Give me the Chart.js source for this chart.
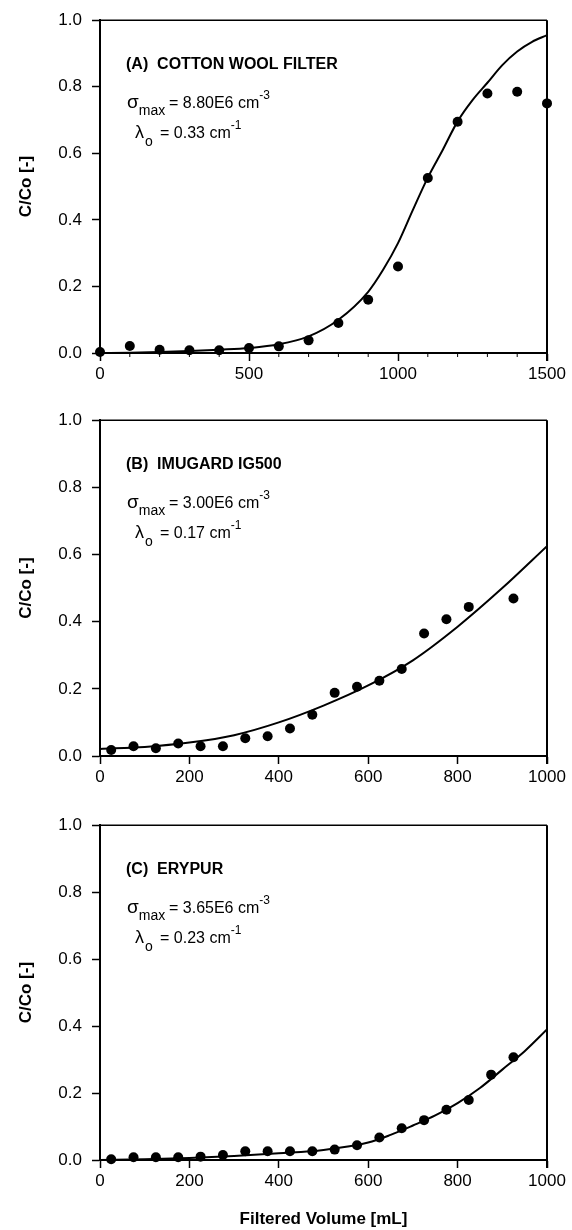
<!DOCTYPE html>
<html>
<head>
<meta charset="utf-8">
<title>Filtration breakthrough curves</title>
<script src="https://cdn.jsdelivr.net/npm/chart.js@4.4.0/dist/chart.umd.min.js"></script>
<style>
  html, body { margin: 0; padding: 0; background: #fff; }
  #wrap { position: relative; width: 572px; height: 1230px; }
  #wrap canvas { position: absolute; left: 0; }
</style>
</head>
<body>
<div id="wrap">
  <canvas id="chart-a" style="top:0px;width:572px;height:400px" width="572" height="400"></canvas>
  <canvas id="chart-b" style="top:400px;width:572px;height:410px" width="572" height="410"></canvas>
  <canvas id="chart-c" style="top:805px;width:572px;height:425px" width="572" height="425"></canvas>
</div>
<script>
// --- data ---

// (A) cotton wool filter
const volumeA = [0, 100, 200, 300, 400, 500, 600, 700, 800, 900, 1000, 1100, 1200, 1300, 1400, 1500];
const ratioA = [0.003, 0.021, 0.01, 0.008, 0.008, 0.015, 0.02, 0.038, 0.09, 0.16, 0.26, 0.526, 0.695, 0.78, 0.785, 0.75];
const fitVolumeA = [0, 100, 200, 300, 400, 500, 600, 700, 800, 900, 950, 1000, 1050, 1100, 1150, 1200, 1250, 1300, 1350, 1400, 1450, 1500];
const fitA = [0, 0.001, 0.003, 0.006, 0.01, 0.015, 0.026, 0.05, 0.1, 0.184, 0.25, 0.33, 0.43, 0.527, 0.61, 0.696, 0.76, 0.812, 0.865, 0.906, 0.935, 0.955];

// (B) Imugard IG500
const volumeB = [25, 75, 125, 175, 225, 275, 325, 375, 425, 475, 525, 575, 625, 675, 725, 775, 825, 925];
const ratioB = [0.018, 0.029, 0.023, 0.037, 0.029, 0.029, 0.053, 0.059, 0.082, 0.123, 0.188, 0.206, 0.224, 0.259, 0.365, 0.407, 0.444, 0.469];
const fitVolumeB = [0, 100, 200, 300, 400, 500, 600, 700, 800, 900, 1000];
const fitB = [0.021, 0.027, 0.04, 0.062, 0.1, 0.15, 0.21, 0.285, 0.385, 0.5, 0.625];

// (C) Erypur
const volumeC = [25, 75, 125, 175, 225, 275, 325, 375, 425, 475, 525, 575, 625, 675, 725, 775, 825, 875, 925];
const ratioC = [0.002, 0.008, 0.008, 0.008, 0.01, 0.015, 0.026, 0.026, 0.026, 0.026, 0.031, 0.044, 0.067, 0.095, 0.119, 0.15, 0.179, 0.255, 0.307];
const fitVolumeC = [0, 100, 200, 300, 400, 500, 600, 650, 700, 750, 800, 850, 900, 950, 1000];
const fitC = [0, 0.002, 0.006, 0.012, 0.02, 0.03, 0.052, 0.075, 0.103, 0.133, 0.17, 0.215, 0.27, 0.325, 0.39];

const panelLabels = ['(A)  COTTON WOOL FILTER', '(B)  IMUGARD IG500', '(C)  ERYPUR'];
const sigmaValues = ['8.80E6', '3.00E6', '3.65E6'];
const lambdaValues = ['0.33', '0.17', '0.23'];
const xMaxes = [1500, 1000, 1000];
const xSteps = [500, 200, 200];
const yTicks = [0, 0.2, 0.4, 0.6, 0.8, 1.0];
const minorTicksA = [100, 200, 300, 400, 600, 700, 800, 900, 1100, 1200, 1300, 1400];

const FONT = '"Liberation Sans", Arial, Helvetica, sans-serif';
Chart.defaults.color = '#000';
Chart.defaults.font.family = FONT;

// frame on top/right, minor ticks and the text block in the upper left
const notesPlugin = {
    id: 'notes',
    afterDraw(chart, args, opts) {
        const { ctx, chartArea: a } = chart;
        ctx.save();
        ctx.strokeStyle = '#000';
        ctx.lineWidth = 1.5;
        ctx.beginPath();
        ctx.moveTo(a.left, a.top);
        ctx.lineTo(a.right, a.top);
        ctx.stroke();
        ctx.lineWidth = 2;
        ctx.beginPath();
        ctx.moveTo(a.right, a.top);
        ctx.lineTo(a.right, a.bottom + 8);
        ctx.stroke();

        const xs = chart.scales.x;
        ctx.lineWidth = 1;
        (opts.minorTicks || []).forEach(v => {
            const px = xs.getPixelForValue(v);
            ctx.beginPath();
            ctx.moveTo(px, a.bottom);
            ctx.lineTo(px, a.bottom + 4);
            ctx.stroke();
        });

        ctx.fillStyle = '#000';
        ctx.textBaseline = 'middle';
        ctx.textAlign = 'left';

        ctx.font = 'bold 16px ' + FONT;
        ctx.fillText(opts.label, a.left + 26, a.top + 44);

        // sigma_max line
        let x = a.left + 27, y = a.top + 83;
        ctx.font = '19px ' + FONT;
        ctx.fillText('\u03c3', x, y);
        x += ctx.measureText('\u03c3').width;
        ctx.font = '14px ' + FONT;
        ctx.fillText('max', x, y + 8);
        ctx.font = '16px ' + FONT;
        const eq1 = '= ' + opts.sigma + ' cm';
        ctx.fillText(eq1, a.left + 69, y);
        const x1 = a.left + 69 + ctx.measureText(eq1).width;
        ctx.font = '12px ' + FONT;
        ctx.fillText('-3', x1, y - 8);

        // lambda_o line
        x = a.left + 35; y = a.top + 113;
        ctx.font = '18px ' + FONT;
        ctx.fillText('\u03bb', x, y);
        x += ctx.measureText('\u03bb').width + 1;
        ctx.font = '14px ' + FONT;
        ctx.fillText('o', x, y + 9);
        ctx.font = '16px ' + FONT;
        const eq2 = '= ' + opts.lambda + ' cm';
        ctx.fillText(eq2, a.left + 60, y);
        const x2 = a.left + 60 + ctx.measureText(eq2).width;
        ctx.font = '12px ' + FONT;
        ctx.fillText('-1', x2, y - 8);
        ctx.restore();
    }
};

function makePanel(id, idx, volumes, ratios, fitVolumes, fitValues, opts) {
    const canvas = document.getElementById(id);
    const H = canvas.height;
    const top = opts.top;
    const plotH = 342;

    new Chart(canvas, {
        type: 'scatter',
        data: {
            datasets: [
                {
                    label: 'model',
                    data: fitVolumes.map((v, i) => ({ x: v, y: fitValues[i] })),
                    showLine: true,
                    borderColor: '#000',
                    borderWidth: 2,
                    pointRadius: 0,
                    cubicInterpolationMode: 'monotone',
                    order: 2
                },
                {
                    label: 'measured',
                    data: volumes.map((v, i) => ({ x: v, y: ratios[i] })),
                    backgroundColor: '#000',
                    borderWidth: 0,
                    pointRadius: 5,
                    clip: false,
                    order: 1
                }
            ]
        },
        options: {
            responsive: false,
            animation: false,
            devicePixelRatio: 1,
            layout: { padding: { top: top, right: 25, bottom: 0, left: 0 } },
            plugins: {
                legend: { display: false },
                tooltip: { enabled: false },
                notes: {
                    label: panelLabels[idx],
                    sigma: sigmaValues[idx],
                    lambda: lambdaValues[idx],
                    minorTicks: opts.minorTicks
                }
            },
            scales: {
                x: {
                    type: 'linear',
                    min: 0,
                    max: xMaxes[idx],
                    afterBuildTicks: s => { s.ticks = []; for (let v = 0; v <= xMaxes[idx]; v += xSteps[idx]) s.ticks.push({ value: v }); },
                    ticks: { font: { size: 17 }, padding: 3, maxRotation: 0, autoSkip: false, callback: v => String(v) },
                    grid: { drawOnChartArea: false, drawTicks: true, tickLength: 8, tickColor: '#000', tickWidth: 1.5 },
                    border: { display: true, color: '#000', width: 2 },
                    title: {
                        display: !!opts.xTitle,
                        text: 'Filtered Volume [mL]',
                        font: { size: 17, weight: 'bold' },
                        padding: { top: 0, bottom: 0 }
                    },
                    afterFit: s => { s.height = H - top - plotH; }
                },
                y: {
                    min: 0,
                    max: 1,
                    afterBuildTicks: s => { s.ticks = yTicks.map(v => ({ value: v })); },
                    ticks: { font: { size: 17 }, padding: 10, callback: v => v.toFixed(1) },
                    grid: { drawOnChartArea: false, drawTicks: true, tickLength: 8, tickColor: '#000', tickWidth: 1.5 },
                    border: { display: true, color: '#000', width: 2 },
                    title: {
                        display: true,
                        text: 'C/Co [-]',
                        font: { size: 17, weight: 'bold' },
                        padding: { top: 16, bottom: 0 }
                    },
                    afterFit: s => { s.width = 100; }
                }
            }
        },
        plugins: [notesPlugin]
    });
}

document.addEventListener('DOMContentLoaded', () => {
    makePanel('chart-a', 0, volumeA, ratioA, fitVolumeA, fitA, { top: 11, minorTicks: minorTicksA });
    makePanel('chart-b', 1, volumeB, ratioB, fitVolumeB, fitB, { top: 14 });
    makePanel('chart-c', 2, volumeC, ratioC, fitVolumeC, fitC, { top: 13, xTitle: true });
});
</script>
</body>
</html>
